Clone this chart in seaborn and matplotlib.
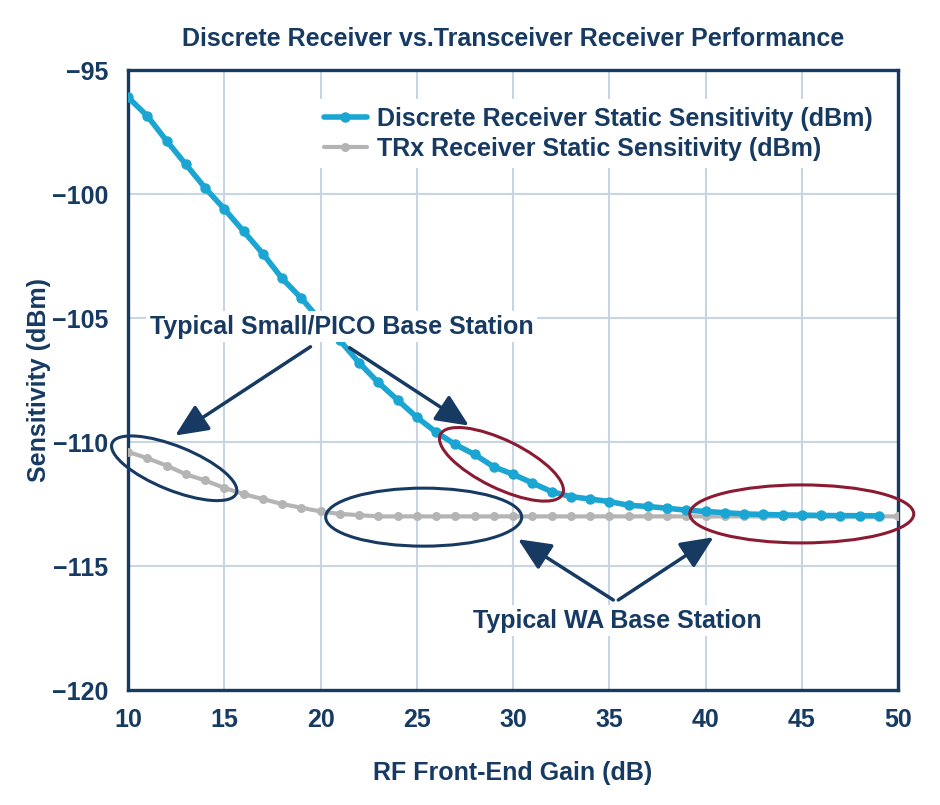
import matplotlib
matplotlib.use("Agg")
import matplotlib.pyplot as plt
import matplotlib.transforms as mtransforms
from matplotlib.patches import Ellipse
import seaborn as sns
import pandas as pd

# ---------------- data ----------------
gain_discrete = list(range(10, 50))
discrete_sens = [-96.1, -96.85, -97.85, -98.8, -99.75, -100.6, -101.5, -102.4, -103.4, -104.2,
                 -105.1, -105.9, -106.8, -107.6, -108.3, -109.0, -109.6, -110.1, -110.5, -111.0,
                 -111.3, -111.65, -112.0, -112.2, -112.3, -112.4, -112.55, -112.6, -112.67, -112.75,
                 -112.8, -112.85, -112.9, -112.92, -112.94, -112.95, -112.96, -112.97, -112.97, -112.98]
gain_trx = list(range(10, 51))
trx_sens = [-110.4, -110.65, -110.95, -111.3, -111.55, -111.85, -112.1, -112.3, -112.5, -112.65,
            -112.8, -112.9, -112.95, -113.0, -113.0, -113.0, -113.0, -113.0, -113.0, -113.0,
            -113.0, -113.0, -113.0, -113.0, -113.0, -113.0, -113.0, -113.0, -113.0, -113.0,
            -113.0, -113.0, -113.0, -113.0, -113.0, -113.0, -113.0, -113.0, -113.0, -113.0,
            -113.0]
series_names = ["Discrete Receiver Static Sensitivity (dBm)", "TRx Receiver Static Sensitivity (dBm)"]
x_ticks = [10, 15, 20, 25, 30, 35, 40, 45, 50]
y_ticks = [-120, -115, -110, -105, -100, -95]
title = "Discrete Receiver vs.Transceiver Receiver Performance"
x_label = "RF Front-End Gain (dB)"
y_label = "Sensitivity (dBm)"
annot_pico = "Typical Small/PICO Base Station"
annot_wa = "Typical WA Base Station"

# ---------------- style ----------------
sns.set_theme(style="white")
plt.rcParams['font.family'] = ['Liberation Sans', 'DejaVu Sans']
NAVY = "#173a63"
BLUE = "#1aa5d2"
GRAY = "#b4b4b4"
RED = "#8a1b33"
GRID = "#c9d5e3"
FS = 18

fig = plt.figure(figsize=(9.4, 8.05), dpi=100)
ax = fig.add_axes([128/940, 1-690/805, 770/940, 620/805])

df_d = pd.DataFrame({"gain": gain_discrete, "sens": discrete_sens, "series": series_names[0]})
df_t = pd.DataFrame({"gain": gain_trx, "sens": trx_sens, "series": series_names[1]})

sns.lineplot(data=df_t, x="gain", y="sens", color=GRAY, lw=3.0, marker="o", markersize=6.5,
             markeredgewidth=0, ax=ax, label=series_names[1], zorder=3)
sns.lineplot(data=df_d, x="gain", y="sens", color=BLUE, lw=4.0, marker="o", markersize=7.5,
             markeredgewidth=0, ax=ax, label=series_names[0], zorder=4)

ax.set_xlim(10, 50)
ax.set_ylim(-120, -95)
ax.set_xticks(x_ticks)
ax.set_yticks(y_ticks)
ax.grid(True, color=GRID, lw=1.5, zorder=0)
ax.set_axisbelow(True)
for s in ax.spines.values():
    s.set_color(NAVY)
    s.set_linewidth(2.4)
    s.set_visible(True)
ax.tick_params(length=0, labelsize=FS, labelcolor=NAVY)
ax.tick_params(axis="x", pad=13)
ax.tick_params(axis="y", pad=14)
for lab in ax.get_xticklabels() + ax.get_yticklabels():
    lab.set_fontweight("bold")

ax.set_xlabel(x_label, fontsize=FS, fontweight="bold", color=NAVY, labelpad=21)
ax.set_ylabel(y_label, fontsize=FS, fontweight="bold", color=NAVY, labelpad=1)
ax.set_title(title, fontsize=FS, fontweight="bold", color=NAVY, pad=17)

# legend
handles, labels = ax.get_legend_handles_labels()
order = [labels.index(series_names[0]), labels.index(series_names[1])]
leg = ax.legend([handles[i] for i in order], [labels[i] for i in order],
                loc="upper left", bbox_to_anchor=(0.245, 0.953), frameon=True,
                fancybox=False, framealpha=1, edgecolor="none", facecolor="white",
                handlelength=1.7, handletextpad=0.4, labelspacing=0.25, borderpad=0.3,
                borderaxespad=0, prop={"size": FS, "weight": "bold"})
for t in leg.get_texts():
    t.set_color(NAVY)
leg.set_zorder(6)

# annotation texts
bbox_w = dict(boxstyle="square,pad=0.15", facecolor="white", edgecolor="none")
ax.text(21.1, -105.35, annot_pico, ha="center", va="center", fontsize=FS, fontweight="bold",
        color=NAVY, bbox=bbox_w, zorder=7)
ax.text(35.4, -117.2, annot_wa, ha="center", va="center", fontsize=FS, fontweight="bold",
        color=NAVY, bbox=bbox_w, zorder=7)

arrow_kw = dict(arrowstyle="-|>,head_length=1.0,head_width=0.45", color=NAVY, lw=2.5,
                mutation_scale=20, shrinkA=0, shrinkB=0)
for (x0, y0), (x1, y1) in [((19.48, -106.16), (12.45, -109.74)),
                           ((21.51, -106.2), (27.71, -109.34)),
                           ((35.21, -116.37), (30.26, -113.92)),
                           ((35.47, -116.37), (40.42, -113.84))]:
    ax.annotate("", xy=(x1, y1), xytext=(x0, y0), arrowprops=arrow_kw, zorder=8)

# ellipses (sizes in pixels, centred at data coordinates)
def pix_ellipse(cx, cy, w, h, angle, color):
    tr = mtransforms.IdentityTransform() + mtransforms.ScaledTranslation(cx, cy, ax.transData)
    e = Ellipse((0, 0), w, h, angle=angle, transform=tr, fill=False, edgecolor=color, lw=2.2,
                zorder=8, clip_on=False)
    ax.add_artist(e)

pix_ellipse(12.4, -111.06, 134, 44, -22, NAVY)
pix_ellipse(25.36, -113.03, 196, 58, 0, NAVY)
pix_ellipse(29.4, -110.9, 136, 48, -26, RED)
pix_ellipse(45.0, -112.9, 224, 58, 0, RED)

fig.savefig("out.png", dpi=100)
